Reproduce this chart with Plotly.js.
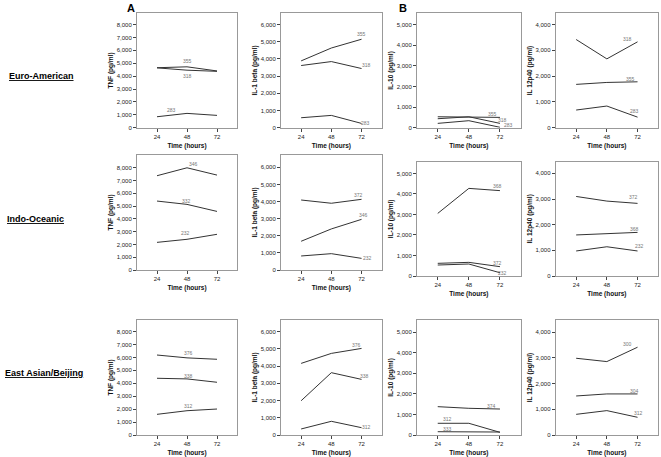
<!DOCTYPE html>
<html>
<head>
<meta charset="utf-8">
<script src="https://cdn.plot.ly/plotly-3.0.1.min.js"></script>
<style>
  body { margin: 0; background: #fff; }
  #myDiv { width: 661px; height: 457px; }
</style>
</head>
<body>
<div id="myDiv"></div>
<script>
// time points (hours)
const hours = [24, 48, 72];

const rowNames = ['Euro-American', 'Indo-Oceanic', 'East Asian/Beijing'];
const markerTitles = ['TNF (pg/ml)', 'IL-1 beta (pg/ml)', 'IL-10 (pg/ml)', 'IL 12p40 (pg/ml)'];
const panelLetters = ['A', 'B'];

// Euro-American
const euroTnf = [['355', [4650, 4720, 4400]], ['318', [4640, 4460, 4370]], ['283', [850, 1110, 955]]];
const euroIl1 = [['355', [3890, 4640, 5150]], ['318', [3620, 3850, 3445]], ['283', [580, 716, 250]]];
const euroIl10 = [['355', [530, 530, 500]], ['318', [435, 530, 210]], ['283', [210, 340, 20]]];
const euroIl12 = [['318', [3420, 2670, 3330]], ['355', [1680, 1755, 1780]], ['283', [685, 840, 410]]];

// Indo-Oceanic
const indoTnf = [['346', [7370, 7990, 7420]], ['332', [5390, 5130, 4580]], ['232', [2160, 2400, 2790]]];
const indoIl1 = [['372', [4090, 3900, 4130]], ['346', [1680, 2400, 2960]], ['232', [820, 955, 680]]];
const indoIl10 = [['368', [3050, 4270, 4160]], ['372', [617, 665, 455]], ['232', [535, 585, 160]]];
const indoIl12 = [['372', [3100, 2920, 2830]], ['368', [1600, 1640, 1700]], ['232', [975, 1140, 975]]];

// East Asian/Beijing
const eastTnf = [['376', [6190, 5970, 5860]], ['338', [4390, 4340, 4080]], ['312', [1600, 1880, 2010]]];
const eastIl1 = [['376', [4160, 4740, 5030]], ['338', [1990, 3620, 3230]], ['312', [350, 795, 425]]];
const eastIl10 = [['374', [1380, 1300, 1265]], ['312', [570, 570, 130]], ['333', [160, 160, 145]]];
const eastIl12 = [['300', [2990, 2860, 3420]], ['304', [1520, 1600, 1600]], ['312', [805, 950, 690]]];

const panels = [
  [euroTnf, euroIl1, euroIl10, euroIl12],
  [indoTnf, indoIl1, indoIl10, indoIl12],
  [eastTnf, eastIl1, eastIl10, eastIl12]
];

// label placement for each series: [point index, xshift, yshift]
const labelPlace = [
  [[[1, 0, 6], [1, 0, -6], [0, 14, 7]],
   [[2, 0, 5], [2, 5, 4], [2, 4, 0]],
   [[2, -7, 3], [2, 3, 3], [2, 9, 2]],
   [[2, -10, 3], [2, -7, 3], [2, -3, 6]]],
  [[[1, 6, 4], [1, -1, 3], [1, -2, 6]],
   [[2, -3, 4], [2, 2, 4], [2, 6, 0]],
   [[2, -2, 5], [2, -2, 4], [2, 3, 0]],
   [[2, -4, 6], [2, -3, 3], [2, 2, 5]]],
  [[[1, 1, 5], [1, 1, 3], [1, 1, 5]],
   [[2, -5, 3], [2, 3, 3], [2, 5, 1]],
   [[2, -8, 3], [0, 10, 4], [0, 10, 3]],
   [[2, -10, 3], [2, -3, 3], [2, 1, 4]]]
];

const W = 661, H = 457;
const colPx = [[137, 237], [281, 381.7], [417, 520.7], [555.7, 658]];
const rowPx = [[13.3, 127.7], [155, 270], [320, 435]];
const yMax = [
  [8870, 6660, 5546, 4437],
  [8990, 6720, 5570, 4455],
  [8900, 6680, 5600, 4480]
];

let data = [];
let layout = {
  width: W, height: H,
  margin: {l: 0, r: 0, t: 0, b: 0},
  paper_bgcolor: '#fff',
  plot_bgcolor: '#fff',
  showlegend: false,
  font: {family: 'Liberation Sans, Arial, sans-serif', size: 6, color: '#222'},
  annotations: []
};

let n = 0;
for (let r = 0; r < 3; r++) {
  for (let c = 0; c < 4; c++) {
    n++;
    let xs = n === 1 ? '' : n;
    let top = rowPx[r][0], bottom = rowPx[r][1];
    if (r === 1 && c >= 2) { top += 6.7; bottom += 6; }

    layout['xaxis' + xs] = {
      domain: [colPx[c][0] / W, colPx[c][1] / W],
      anchor: 'y' + xs,
      range: [8, 88],
      tickvals: hours,
      ticks: 'outside', ticklen: 3, tickcolor: '#444',
      showgrid: false, zeroline: false,
      showline: true, mirror: true, linecolor: '#999', linewidth: 1,
      tickfont: {size: 6, color: '#222'},
      title: {text: 'Time (hours)', font: {size: 6.5, weight: 'bold', color: '#111'}, standoff: 4}
    };
    layout['yaxis' + xs] = {
      domain: [(H - bottom) / H, (H - top) / H],
      anchor: 'x' + xs,
      range: [0, yMax[r][c]],
      dtick: 1000, tickformat: ',d',
      ticks: 'outside', ticklen: 3, tickcolor: '#444',
      showgrid: false, zeroline: false,
      showline: true, mirror: true, linecolor: '#999', linewidth: 1,
      tickfont: {size: 6, color: '#222'},
      title: {text: markerTitles[c], font: {size: 6.5, weight: 'bold', color: '#111'}, standoff: 2}
    };

    panels[r][c].forEach(function (s, k) {
      data.push({
        type: 'scatter', mode: 'lines',
        x: hours, y: s[1],
        xaxis: 'x' + xs, yaxis: 'y' + xs,
        line: {color: '#333', width: 1},
        hoverinfo: 'skip'
      });
      let p = labelPlace[r][c][k];
      layout.annotations.push({
        xref: 'x' + xs, yref: 'y' + xs,
        x: hours[p[0]], y: s[1][p[0]],
        xshift: p[1], yshift: p[2],
        text: s[0], showarrow: false,
        font: {size: 5, color: '#777'}
      });
    });
  }
}

// row labels
const rowLabelPx = [[7, 76], [5, 219], [3, 373]];
rowNames.forEach(function (name, i) {
  layout.annotations.push({
    xref: 'paper', yref: 'paper',
    x: rowLabelPx[i][0] / W, y: (H - rowLabelPx[i][1]) / H,
    xanchor: 'left', yanchor: 'middle',
    text: '<b><u>' + name + '</u></b>', showarrow: false,
    font: {size: 9, color: '#000'}
  });
});

// panel letters
const letterX = [131, 403];
panelLetters.forEach(function (t, i) {
  layout.annotations.push({
    xref: 'paper', yref: 'paper',
    x: letterX[i] / W, y: (H - 8) / H,
    xanchor: 'center', yanchor: 'middle',
    text: '<b>' + t + '</b>', showarrow: false,
    font: {size: 11, color: '#000'}
  });
});

Plotly.newPlot('myDiv', data, layout, {staticPlot: true});
</script>
</body>
</html>
